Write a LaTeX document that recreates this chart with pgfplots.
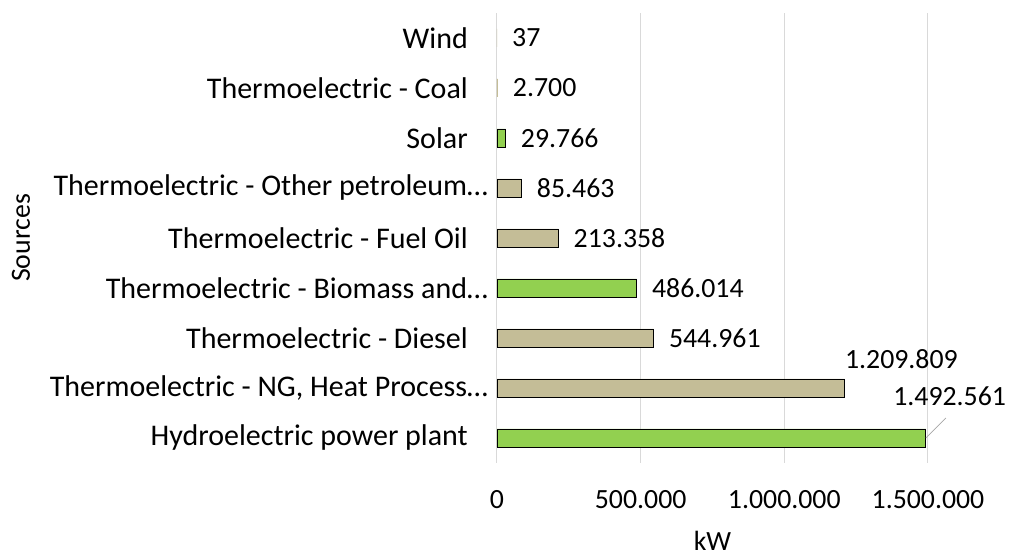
\documentclass[border=0pt]{standalone}
\usepackage{pgfplots}
\pgfplotsset{compat=1.18}
\usepackage{pgfplotstable}
\usepackage{fontspec}
\setmainfont{Carlito}
\definecolor{bargreen}{RGB}{146,208,80}
\definecolor{bartan}{RGB}{196,189,151}
\definecolor{gridgray}{RGB}{217,217,217}

\pgfplotstableread{
y x lab xs ys
0 1492561 1.492.561 -33 42
3 486014 486.014 15 0
6 29766 29.766 15 0
}\greendata
\pgfplotstableread{
y x lab xs ys
1 1209809 1.209.809 0 29
2 544961 544.961 15 0
4 213358 213.358 15 0
5 85463 85.463 15 0
}\tandata
\pgfplotstableread{
y x lab xs ys
7 2700 2.700 15 0
8 37 37 15 0
}\tinydata

\begin{document}
\fontsize{27.8}{33}\selectfont
\begin{tikzpicture}
\path[use as bounding box] (-497pt,-91pt) rectangle (526pt,463pt);
\begin{axis}[
  at={(0,0)}, anchor=south west,
  scale only axis, width=431pt, height=450pt,
  xmin=0, xmax=1500000, ymin=-0.5, ymax=8.5,
  xbar, bar width=18pt, /pgf/bar shift=0pt,
  clip=false,
  axis line style={draw=none},
  major tick length=0pt,
  xmajorgrids, major grid style={gridgray, line width=1pt},
  xtick={0,500000,1000000,1500000},
  scaled x ticks=false,
  xticklabel style={/pgf/number format/.cd, fixed, precision=0, 1000 sep={.}, assume math mode=true, /tikz/.cd, anchor=center, yshift=-37pt},
  ytick={0,...,8},
  yticklabels={Hydroelectric power plant\hspace*{20pt},
    {Thermoelectric - NG, Heat Process…},
    Thermoelectric - Diesel\hspace*{20pt},
    Thermoelectric - Biomass and…,
    Thermoelectric - Fuel Oil\hspace*{20pt},
    Thermoelectric - Other petroleum…,
    Solar\hspace*{20pt},
    Thermoelectric - Coal\hspace*{20pt},
    Wind\hspace*{20pt}},
  yticklabel style={anchor=east, inner sep=0pt, xshift=-9pt, font=\fontsize{30}{36}\selectfont},
  xlabel={kW}, ylabel={Sources},
  every axis x label/.style={at={(axis description cs:0.5,-0.1733)}, anchor=center, inner sep=0pt},
  every axis y label/.style={at={(axis description cs:-1.1044,0.5)}, rotate=90, anchor=center, inner sep=0pt},
  point meta=explicit symbolic,
  nodes near coords={\pgfplotspointmeta},
  visualization depends on={\thisrow{xs} \as \xs},
  visualization depends on={\thisrow{ys} \as \ys},
  nodes near coords style={anchor=west, inner sep=0pt, xshift=\xs pt, yshift=\ys pt, text=black},
]
\addplot[draw=black, line width=0.9pt, fill=bargreen] table[x=x, y=y, meta=lab] {\greendata};
\addplot[draw=black, line width=0.9pt, fill=bartan] table[x=x, y=y, meta=lab] {\tandata};
\addplot[draw=none, fill=bartan] table[x=x, y=y, meta=lab] {\tinydata};
\draw[gray!70, line width=0.8pt] (axis cs:1492561,0) -- ++(20pt,20pt);
\end{axis}
\end{tikzpicture}
\end{document}
